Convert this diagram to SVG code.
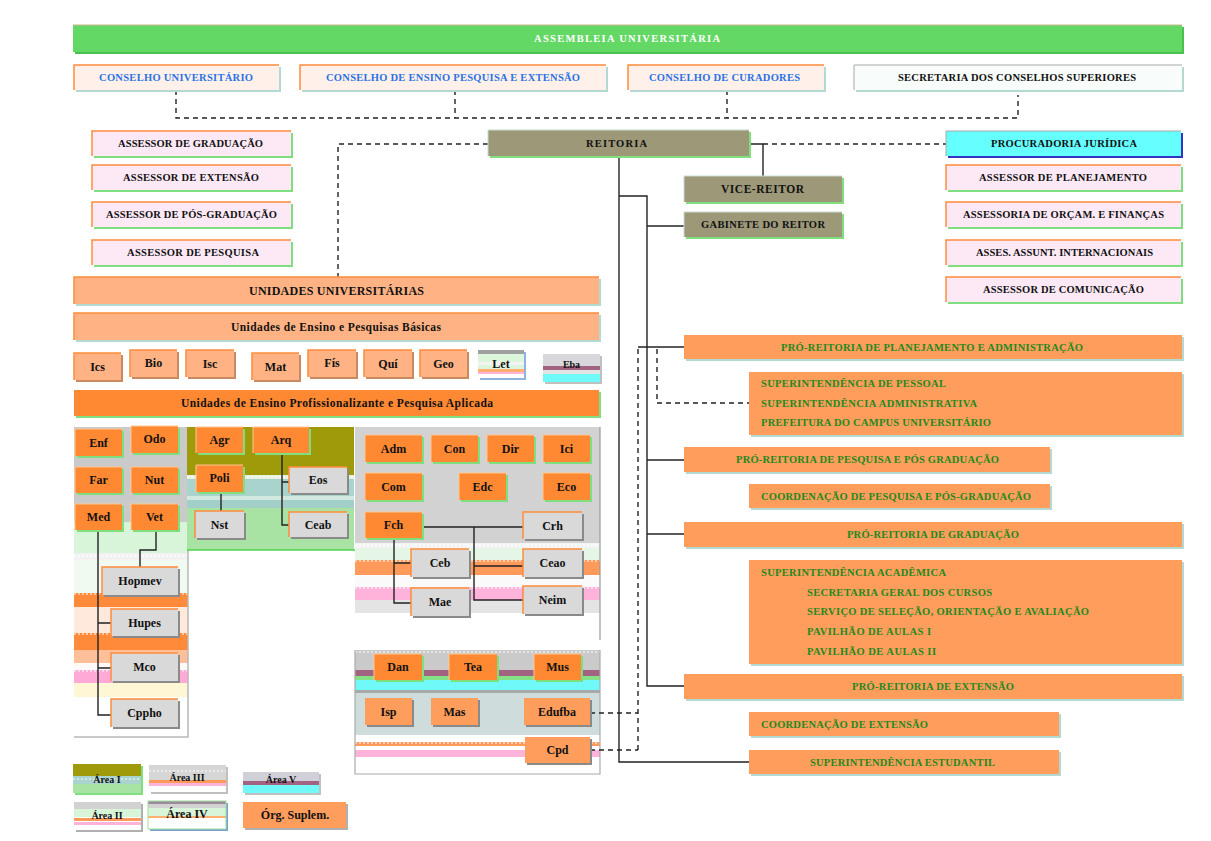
<svg xmlns="http://www.w3.org/2000/svg" width="1211" height="841" viewBox="0 0 1211 841">
<style>
  .t{font-family:"Liberation Serif","Times New Roman",serif;font-weight:bold;font-size:10.5px;fill:#111}
  .s{font-size:12px;text-anchor:middle}
  .m{text-anchor:middle}
  .blue{fill:#2a72e6}
  .grn{fill:#1e8a1e}
  .wht{fill:#ffffff}
  .or{fill:#ff8833}
  .lo{fill:#ff9d5c}
  .pe{fill:#ffb384}
  .gy{fill:#d9d9d9}
  .pk{fill:#fde9f6}
  .cr{fill:#fff1ea}
  .ol{fill:#9c9878}
  .cy{fill:#66ffff}
  .shg{fill:#7fdf7f}
  .sht{fill:#b4d8d2}
  .shd{fill:#8a8a8a}
  .sho{fill:#c98a62}
  .shb{fill:#3434c4}
  .eo{fill:none;stroke:#ff8c3c;stroke-width:1.5}
  .el{fill:none;stroke:#ffc890;stroke-width:1}
  .eg{fill:none;stroke:#a8a8a8;stroke-width:1}
  .ln{fill:none;stroke:#222;stroke-width:1.4}
  .dl{fill:none;stroke:#222;stroke-width:1.4;stroke-dasharray:5 4}
  .dot{fill:none;stroke:#ffffff;stroke-width:1.2;stroke-dasharray:2 2}
</style>

<rect width="1211" height="841" fill="#ffffff"/>

<!-- background areas -->
<g id="areas">
  <!-- health area panel -->
  <rect x="74" y="427" width="114" height="95" fill="#cacaca"/>
  <rect x="74" y="522" width="114" height="31" fill="#d9f5d9"/>
  <rect x="74" y="553" width="114" height="7" fill="#f2f2f2"/>
  <rect x="74" y="560" width="114" height="33" fill="#f0faf0"/>
  <rect x="74" y="593" width="114" height="14" fill="#ff8a3a"/>
  <rect x="74" y="607" width="114" height="26" fill="#ffe9dc"/>
  <rect x="74" y="633" width="114" height="17" fill="#ff8a3a"/>
  <rect x="74" y="650" width="114" height="13" fill="#ffbf98"/>
  <rect x="74" y="663" width="114" height="7" fill="#fffafa"/>
  <rect x="74" y="670" width="114" height="13" fill="#ffaad6"/>
  <rect x="74" y="683" width="114" height="14" fill="#fff6d6"/>
  <line class="dot" x1="74" y1="556" x2="188" y2="556"/>
  <line class="dot" x1="74" y1="594" x2="188" y2="594"/>
  <line class="dot" x1="74" y1="634" x2="188" y2="634"/>
  <line class="dot" x1="74" y1="671" x2="188" y2="671"/>
  <path d="M188,427V737H74" fill="none" stroke="#b8b8b8" stroke-width="1.5"/>

  <!-- agrarian / technology panel -->
  <rect x="187" y="427" width="167" height="48" fill="#9e9a0a"/>
  <rect x="187" y="475" width="167" height="4" fill="#e8f0e0"/>
  <rect x="187" y="479" width="167" height="17" fill="#a9d3cd"/>
  <rect x="187" y="496" width="167" height="4" fill="#d0e8e0"/>
  <rect x="187" y="500" width="167" height="8" fill="#a3cfc9"/>
  <rect x="187" y="508" width="167" height="42" fill="#a9e3a3"/>
  <line class="dot" x1="187" y1="477" x2="354" y2="477"/>
  <line x1="187" y1="550" x2="355" y2="550" stroke="#4fd04f" stroke-width="1.5"/>

  <!-- humanities panel -->
  <rect x="355" y="427" width="245" height="116" fill="#d2d2d2"/>
  <rect x="355" y="543" width="245" height="5" fill="#f4f4f4"/>
  <rect x="355" y="548" width="245" height="12" fill="#e6f6e6"/>
  <rect x="355" y="560" width="245" height="15" fill="#ff9a5a"/>
  <rect x="355" y="575" width="245" height="12" fill="#fafafa"/>
  <rect x="355" y="587" width="245" height="13" fill="#ffb3da"/>
  <rect x="355" y="600" width="245" height="13" fill="#e4e4e4"/>
  <line class="dot" x1="355" y1="561" x2="600" y2="561"/>
  <line class="dot" x1="355" y1="588" x2="600" y2="588"/>
  <line class="dot" x1="355" y1="545" x2="600" y2="545"/>
  <line x1="600" y1="427" x2="600" y2="640" stroke="#999999" stroke-width="1.2"/>

  <!-- arts and supplementary bodies panel -->
  <rect x="355" y="650" width="245" height="20" fill="#cacaca"/>
  <rect x="355" y="670" width="245" height="6" fill="#a26282"/>
  <rect x="355" y="676" width="245" height="4" fill="#86e086"/>
  <rect x="355" y="680" width="245" height="10" fill="#6ff9f9"/>
  <rect x="355" y="690" width="245" height="3" fill="#a9a9a9"/>
  <rect x="355" y="693" width="245" height="42" fill="#cfdcdc"/>
  <rect x="355" y="742" width="245" height="4" fill="#ff9a5a"/>
  <rect x="355" y="750" width="245" height="7" fill="#ffb3da"/>
  <line class="dot" x1="355" y1="652" x2="600" y2="652"/>
  <line class="dot" x1="355" y1="743" x2="600" y2="743"/>
  <path d="M355,650V774H600V650" fill="none" stroke="#aaaaaa" stroke-width="1.2"/>
</g>

<!-- connectors -->
<g id="connectors">
  <path class="dl" d="M176,90V118H1018V95"/>
  <path class="dl" d="M455,90V118"/>
  <path class="dl" d="M727,90V118"/>
  <path class="dl" d="M488,144H338V277"/>
  <path class="dl" d="M763,144H946"/>
  <path class="dl" d="M638,349V750"/>
  <path class="dl" d="M590,713H638"/>
  <path class="dl" d="M590,750H638"/>
  <path class="dl" d="M657,349V403H749"/>
  <path class="ln" d="M749,144H763V176"/>
  <path class="ln" d="M619,157V762H749"/>
  <path class="ln" d="M619,196H647V686H684"/>
  <path class="ln" d="M647,226H684"/>
  <path class="ln" d="M638,347H684"/>
  <path class="ln" d="M647,460H684"/>
  <path class="ln" d="M647,534H684"/>
  <path class="ln" d="M98,530V715H111M98,623H111M98,668H111"/>
  <path class="ln" d="M156,530V550H140V567"/>
  <path class="ln" d="M221,492V511"/>
  <path class="ln" d="M282,453V525H289M282,482H289"/>
  <path class="ln" d="M422,527H523M474,527V600H523M474,566H523"/>
  <path class="ln" d="M394,538V603H411M394,563H411"/>
</g>

<!-- top level bodies -->
<g id="assembleia">
  <rect x="75" y="27" width="1109" height="27" fill="#4cc04c"/>
  <rect x="73" y="25" width="1109" height="27" fill="#64d864"/>
  <path d="M73,25H1182" stroke="#c8b888" stroke-width="1.2"/>
  <text class="t wht" x="534" y="42" textLength="186" lengthAdjust="spacing">ASSEMBLEIA UNIVERSITÁRIA</text>
</g>
<g id="conselho-universitario">
  <rect class="sht" x="76" y="67" width="205" height="25"/>
  <rect class="cr" x="74" y="65" width="205" height="25"/>
  <path class="eo" d="M74,90V65H279"/>
  <text class="t blue" x="99" y="81" textLength="154" lengthAdjust="spacing">CONSELHO UNIVERSITÁRIO</text>
</g>
<g id="conselho-ensino">
  <rect class="sht" x="302" y="67" width="306" height="25"/>
  <rect class="cr" x="300" y="65" width="306" height="25"/>
  <path class="eo" d="M300,90V65H606"/>
  <text class="t blue" x="326" y="81" textLength="254" lengthAdjust="spacing">CONSELHO DE ENSINO PESQUISA E EXTENSÃO</text>
</g>
<g id="conselho-curadores">
  <rect class="sht" x="630" y="67" width="196" height="25"/>
  <rect class="cr" x="628" y="65" width="196" height="25"/>
  <path class="eo" d="M628,90V65H824"/>
  <text class="t blue" x="649" y="81" textLength="151" lengthAdjust="spacing">CONSELHO DE CURADORES</text>
</g>
<g id="secretaria-conselhos">
  <rect class="sht" x="856" y="67" width="328" height="25"/>
  <rect x="854" y="65" width="328" height="25" fill="#f8fcfa"/>
  <path class="eg" d="M854,90V65H1182" stroke="#e0e8e4"/>
  <text class="t" x="898" y="81" textLength="238" lengthAdjust="spacing">SECRETARIA DOS CONSELHOS SUPERIORES</text>
</g>

<!-- advisors, left -->
<g id="assessor-graduacao">
  <rect class="shg" x="94" y="133" width="199" height="25"/>
  <rect class="pk" x="92" y="131" width="199" height="25"/>
  <path class="eo" d="M92,156V131H291"/>
  <text class="t" x="118" y="147" textLength="145" lengthAdjust="spacing">ASSESSOR DE GRADUAÇÃO</text>
</g>
<g id="assessor-extensao">
  <rect class="shg" x="94" y="167" width="199" height="25"/>
  <rect class="pk" x="92" y="165" width="199" height="25"/>
  <path class="eo" d="M92,190V165H291"/>
  <text class="t" x="123" y="181" textLength="136" lengthAdjust="spacing">ASSESSOR DE EXTENSÃO</text>
</g>
<g id="assessor-pos">
  <rect class="shg" x="94" y="204" width="199" height="25"/>
  <rect class="pk" x="92" y="202" width="199" height="25"/>
  <path class="eo" d="M92,227V202H291"/>
  <text class="t" x="106" y="218" textLength="171" lengthAdjust="spacing">ASSESSOR DE PÓS-GRADUAÇÃO</text>
</g>
<g id="assessor-pesquisa">
  <rect class="shg" x="94" y="242" width="199" height="25"/>
  <rect class="pk" x="92" y="240" width="199" height="25"/>
  <path class="eo" d="M92,265V240H291"/>
  <text class="t" x="127" y="256" textLength="132" lengthAdjust="spacing">ASSESSOR DE PESQUISA</text>
</g>

<!-- rectorate -->
<g id="reitoria">
  <rect class="shg" x="490" y="132" width="261" height="26"/>
  <rect class="ol" x="488" y="130" width="261" height="26"/>
  <path d="M488,156V130H749" fill="none" stroke="#c8dcd0" stroke-width="1"/>
  <text class="t" x="586" y="147" textLength="61" lengthAdjust="spacing">REITORIA</text>
</g>
<g id="vice-reitor">
  <rect class="shg" x="686" y="178" width="158" height="26"/>
  <rect class="ol" x="684" y="176" width="158" height="26"/>
  <path d="M684,202V176H842" fill="none" stroke="#c8dcd0" stroke-width="1"/>
  <text class="t" x="721" y="193" textLength="83" lengthAdjust="spacing" style="font-size:11.5px">VICE-REITOR</text>
</g>
<g id="gabinete">
  <rect class="shg" x="686" y="214" width="158" height="25"/>
  <rect class="ol" x="684" y="212" width="158" height="25"/>
  <path d="M684,237V212H842" fill="none" stroke="#c8dcd0" stroke-width="1"/>
  <text class="t" x="701" y="228" textLength="124" lengthAdjust="spacing">GABINETE DO REITOR</text>
</g>

<!-- advisors, right -->
<g id="procuradoria">
  <rect class="shb" x="948" y="133" width="235" height="25"/>
  <rect class="cy" x="946" y="131" width="235" height="25"/>
  <path class="eg" d="M946,156V131H1181"/>
  <text class="t" x="991" y="147" textLength="146" lengthAdjust="spacing">PROCURADORIA JURÍDICA</text>
</g>
<g id="assessor-planejamento">
  <rect class="shg" x="948" y="167" width="235" height="25"/>
  <rect class="pk" x="946" y="165" width="235" height="25"/>
  <path class="eo" d="M946,190V165H1181"/>
  <text class="t" x="979" y="181" textLength="168" lengthAdjust="spacing">ASSESSOR DE PLANEJAMENTO</text>
</g>
<g id="assessoria-orcamento">
  <rect class="shg" x="948" y="204" width="235" height="25"/>
  <rect class="pk" x="946" y="202" width="235" height="25"/>
  <path class="eo" d="M946,227V202H1181"/>
  <text class="t" x="963" y="218" textLength="201" lengthAdjust="spacing">ASSESSORIA DE ORÇAM. E FINANÇAS</text>
</g>
<g id="assessor-internacional">
  <rect class="shg" x="948" y="242" width="235" height="25"/>
  <rect class="pk" x="946" y="240" width="235" height="25"/>
  <path class="eo" d="M946,265V240H1181"/>
  <text class="t" x="976" y="256" textLength="177" lengthAdjust="spacing">ASSES. ASSUNT. INTERNACIONAIS</text>
</g>
<g id="assessor-comunicacao">
  <rect class="shg" x="948" y="279" width="235" height="25"/>
  <rect class="pk" x="946" y="277" width="235" height="25"/>
  <path class="eo" d="M946,302V277H1181"/>
  <text class="t" x="983" y="293" textLength="161" lengthAdjust="spacing">ASSESSOR DE COMUNICAÇÃO</text>
</g>

<!-- university units -->
<g id="unidades">
  <rect class="sht" x="76" y="279" width="525" height="27"/>
  <rect class="pe" x="74" y="277" width="525" height="27"/>
  <path class="eo" d="M74,304V277H599"/>
  <text class="t" x="249" y="295" textLength="175" lengthAdjust="spacing" style="font-size:12px">UNIDADES UNIVERSITÁRIAS</text>
</g>
<g id="unidades-basicas">
  <rect class="sht" x="76" y="315" width="525" height="27"/>
  <rect class="pe" x="74" y="313" width="525" height="27"/>
  <path class="eo" d="M74,340V313H599"/>
  <text class="t" x="231" y="331" textLength="210" lengthAdjust="spacing" style="font-size:11.5px">Unidades de Ensino e Pesquisas Básicas</text>
</g>
<g id="unidades-profissionais">
  <rect class="shg" x="76" y="392" width="525" height="26"/>
  <rect class="or" x="74" y="390" width="525" height="26"/>
  <text class="t" x="181" y="407" textLength="312" lengthAdjust="spacing" style="font-size:11.5px">Unidades de Ensino Profissionalizante e Pesquisa Aplicada</text>
</g>

<!-- basic units -->
<g id="ics"><rect class="sho" x="76" y="355" width="47" height="27"/><rect class="pe" x="74" y="353" width="47" height="27"/><path class="eo" d="M74,380V353H121"/><text class="t s" x="97.5" y="371">Ics</text></g>
<g id="bio"><rect class="sho" x="132" y="352" width="47" height="27"/><rect class="pe" x="130" y="350" width="47" height="27"/><path class="eo" d="M130,377V350H177"/><text class="t s" x="153.5" y="367">Bio</text></g>
<g id="isc"><rect class="sho" x="188" y="352" width="48" height="27"/><rect class="pe" x="186" y="350" width="48" height="27"/><path class="eo" d="M186,377V350H234"/><text class="t s" x="210" y="368">Isc</text></g>
<g id="mat"><rect class="sho" x="254" y="355" width="47" height="27"/><rect class="pe" x="252" y="353" width="47" height="27"/><path class="eo" d="M252,380V353H299"/><text class="t s" x="275.5" y="371">Mat</text></g>
<g id="fis"><rect class="sho" x="310" y="352" width="48" height="27"/><rect class="pe" x="308" y="350" width="48" height="27"/><path class="eo" d="M308,377V350H356"/><text class="t s" x="332" y="367">Fís</text></g>
<g id="qui"><rect class="sho" x="366" y="352" width="48" height="27"/><rect class="pe" x="364" y="350" width="48" height="27"/><path class="eo" d="M364,377V350H412"/><text class="t s" x="388" y="368">Quí</text></g>
<g id="geo"><rect class="sho" x="422" y="352" width="47" height="27"/><rect class="pe" x="420" y="350" width="47" height="27"/><path class="eo" d="M420,377V350H467"/><text class="t s" x="443.5" y="368">Geo</text></g>
<g id="let">
  <rect x="480" y="352" width="46" height="28" fill="#8fb2e0"/>
  <rect x="478" y="350" width="46" height="28" fill="#dcf6dc"/>
  <rect x="478" y="350" width="46" height="4" fill="#a0a0a0"/>
  <rect x="478" y="362" width="46" height="3" fill="#f4f4f4"/>
  <rect x="478" y="369" width="46" height="3" fill="#ffb070"/>
  <rect x="478" y="372" width="46" height="2" fill="#ffb3da"/>
  <rect x="478" y="374" width="46" height="4" fill="#ffffff"/>
  <text class="t s" x="501" y="368">Let</text>
</g>
<g id="eba">
  <rect x="545" y="356" width="57" height="28" fill="#c0c0c0"/>
  <rect x="543" y="354" width="57" height="28" fill="#d8d8dc"/>
  <rect x="543" y="366" width="57" height="4" fill="#a26282"/>
  <rect x="543" y="370" width="57" height="4" fill="#e4e4e4"/>
  <rect x="543" y="374" width="57" height="8" fill="#6ff9f9"/>
  <text class="t s" x="571.5" y="368" style="font-size:10px">Eba</text>
</g>

<!-- health area units -->
<g id="enf"><rect class="shg" x="77" y="431" width="47" height="27"/><rect class="or" x="75" y="429" width="47" height="27"/><path class="el" d="M75,456V429H122"/><text class="t s" x="98.5" y="447">Enf</text></g>
<g id="odo"><rect class="shg" x="133" y="428" width="47" height="27"/><rect class="or" x="131" y="426" width="47" height="27"/><path class="el" d="M131,453V426H178"/><text class="t s" x="154.5" y="443">Odo</text></g>
<g id="far"><rect class="shg" x="77" y="469" width="47" height="26"/><rect class="or" x="75" y="467" width="47" height="26"/><path class="el" d="M75,493V467H122"/><text class="t s" x="98.5" y="484">Far</text></g>
<g id="nut"><rect class="shg" x="133" y="469" width="47" height="26"/><rect class="or" x="131" y="467" width="47" height="26"/><path class="el" d="M131,493V467H178"/><text class="t s" x="154.5" y="484">Nut</text></g>
<g id="med"><rect class="shg" x="77" y="506" width="47" height="26"/><rect class="or" x="75" y="504" width="47" height="26"/><path class="el" d="M75,530V504H122"/><text class="t s" x="98.5" y="521">Med</text></g>
<g id="vet"><rect class="shg" x="133" y="506" width="47" height="26"/><rect class="or" x="131" y="504" width="47" height="26"/><path class="el" d="M131,530V504H178"/><text class="t s" x="154.5" y="521">Vet</text></g>
<g id="hopmev"><rect class="shd" x="104" y="569" width="76" height="28"/><rect class="gy" x="102" y="567" width="76" height="28"/><path class="eo" d="M102,595V567H178"/><text class="t s" x="140" y="585">Hopmev</text></g>
<g id="hupes"><rect class="shd" x="113" y="611" width="67" height="27"/><rect class="gy" x="111" y="609" width="67" height="27"/><path class="eo" d="M111,636V609H178"/><text class="t s" x="144.5" y="627">Hupes</text></g>
<g id="mco"><rect class="shd" x="113" y="655" width="67" height="28"/><rect class="gy" x="111" y="653" width="67" height="28"/><path class="eo" d="M111,681V653H178"/><text class="t s" x="144.5" y="671">Mco</text></g>
<g id="cppho"><rect class="shd" x="113" y="701" width="67" height="28"/><rect class="gy" x="111" y="699" width="67" height="28"/><path class="eo" d="M111,727V699H178"/><text class="t s" x="144.5" y="717">Cppho</text></g>

<!-- agrarian and technology units -->
<g id="agr"><rect class="shg" x="198" y="429" width="47" height="26"/><rect class="or" x="196" y="427" width="47" height="26"/><path class="el" d="M196,453V427H243"/><text class="t s" x="219.5" y="444">Agr</text></g>
<g id="arq"><rect class="shg" x="255" y="429" width="56" height="26"/><rect class="or" x="253" y="427" width="56" height="26"/><path class="el" d="M253,453V427H309"/><text class="t s" x="281" y="444">Arq</text></g>
<g id="poli"><rect class="shg" x="198" y="467" width="47" height="27"/><rect class="or" x="196" y="465" width="47" height="27"/><path class="el" d="M196,492V465H243"/><text class="t s" x="219.5" y="482">Poli</text></g>
<g id="nst"><rect class="shd" x="197" y="513" width="49" height="27"/><rect class="gy" x="195" y="511" width="49" height="27"/><path class="eo" d="M195,538V511H244"/><text class="t s" x="219.5" y="529">Nst</text></g>
<g id="eos"><rect class="shd" x="291" y="469" width="58" height="26"/><rect class="gy" x="289" y="467" width="58" height="26"/><path class="eo" d="M289,493V467H347"/><text class="t s" x="318" y="484">Eos</text></g>
<g id="ceab"><rect class="shd" x="291" y="514" width="58" height="25"/><rect class="gy" x="289" y="512" width="58" height="25"/><path class="eo" d="M289,537V512H347"/><text class="t s" x="318" y="528.5">Ceab</text></g>

<!-- humanities units -->
<g id="adm"><rect class="shg" x="367" y="437" width="57" height="27"/><rect class="or" x="365" y="435" width="57" height="27"/><path class="el" d="M365,462V435H422"/><text class="t s" x="393.5" y="452.5">Adm</text></g>
<g id="con"><rect class="shg" x="433" y="437" width="47" height="27"/><rect class="or" x="431" y="435" width="47" height="27"/><path class="el" d="M431,462V435H478"/><text class="t s" x="454.5" y="452.5">Con</text></g>
<g id="dir"><rect class="shg" x="489" y="437" width="47" height="27"/><rect class="or" x="487" y="435" width="47" height="27"/><path class="el" d="M487,462V435H534"/><text class="t s" x="510.5" y="452.5">Dir</text></g>
<g id="ici"><rect class="shg" x="545" y="437" width="47" height="27"/><rect class="or" x="543" y="435" width="47" height="27"/><path class="el" d="M543,462V435H590"/><text class="t s" x="566.5" y="452.5">Ici</text></g>
<g id="com"><rect class="shg" x="367" y="475" width="57" height="27"/><rect class="or" x="365" y="473" width="57" height="27"/><path class="el" d="M365,500V473H422"/><text class="t s" x="393.5" y="490.5">Com</text></g>
<g id="edc"><rect class="shg" x="461" y="475" width="47" height="27"/><rect class="or" x="459" y="473" width="47" height="27"/><path class="el" d="M459,500V473H506"/><text class="t s" x="482.5" y="490.5">Edc</text></g>
<g id="eco"><rect class="shg" x="545" y="475" width="47" height="27"/><rect class="or" x="543" y="473" width="47" height="27"/><path class="el" d="M543,500V473H590"/><text class="t s" x="566.5" y="490.5">Eco</text></g>
<g id="fch"><rect class="shg" x="367" y="514" width="57" height="26"/><rect class="or" x="365" y="512" width="57" height="26"/><path class="el" d="M365,538V512H422"/><text class="t s" x="393.5" y="529">Fch</text></g>
<g id="crh"><rect class="shd" x="525" y="514" width="59" height="27"/><rect class="gy" x="523" y="512" width="59" height="27"/><path class="eo" d="M523,539V512H582"/><text class="t s" x="552.5" y="529.5">Crh</text></g>
<g id="ceb"><rect class="shd" x="413" y="551" width="58" height="28"/><rect class="gy" x="411" y="549" width="58" height="28"/><path class="eo" d="M411,577V549H469"/><text class="t s" x="440" y="567">Ceb</text></g>
<g id="ceao"><rect class="shd" x="525" y="551" width="59" height="28"/><rect class="gy" x="523" y="549" width="59" height="28"/><path class="eo" d="M523,577V549H582"/><text class="t s" x="552.5" y="567">Ceao</text></g>
<g id="mae"><rect class="shd" x="413" y="590" width="58" height="28"/><rect class="gy" x="411" y="588" width="58" height="28"/><path class="eo" d="M411,616V588H469"/><text class="t s" x="440" y="606">Mae</text></g>
<g id="neim"><rect class="shd" x="525" y="588" width="59" height="28"/><rect class="gy" x="523" y="586" width="59" height="28"/><path class="eo" d="M523,614V586H582"/><text class="t s" x="552.5" y="604">Neim</text></g>

<!-- arts units -->
<g id="dan"><rect class="shg" x="376" y="656" width="48" height="26"/><rect class="or" x="374" y="654" width="48" height="26"/><path class="el" d="M374,680V654H422"/><text class="t s" x="398" y="671">Dan</text></g>
<g id="tea"><rect class="shg" x="451" y="656" width="48" height="26"/><rect class="or" x="449" y="654" width="48" height="26"/><path class="el" d="M449,680V654H497"/><text class="t s" x="473" y="671">Tea</text></g>
<g id="mus"><rect class="shg" x="536" y="656" width="47" height="26"/><rect class="or" x="534" y="654" width="47" height="26"/><path class="el" d="M534,680V654H581"/><text class="t s" x="557.5" y="671">Mus</text></g>

<!-- supplementary bodies -->
<g id="isp"><rect class="shd" x="367" y="700" width="47" height="27"/><rect class="lo" x="365" y="698" width="47" height="27"/><text class="t s" x="388.5" y="716">Isp</text></g>
<g id="mas"><rect class="shd" x="433" y="700" width="47" height="27"/><rect class="lo" x="431" y="698" width="47" height="27"/><text class="t s" x="454.5" y="716">Mas</text></g>
<g id="edufba"><rect class="shd" x="526" y="700" width="66" height="27"/><rect class="lo" x="524" y="698" width="66" height="27"/><text class="t s" x="557" y="716">Edufba</text></g>
<g id="cpd"><rect class="shd" x="527" y="739" width="65" height="26"/><rect class="lo" x="525" y="737" width="65" height="26"/><text class="t s" x="557.5" y="754">Cpd</text></g>

<!-- pro-rectorates -->
<g id="pr-planejamento">
  <rect class="sht" x="686" y="337" width="498" height="24"/>
  <rect class="lo" x="684" y="335" width="498" height="24"/>
  <text class="t grn" x="781" y="351" textLength="302" lengthAdjust="spacing">PRÓ-REITORIA DE PLANEJAMENTO E ADMINISTRAÇÃO</text>
</g>
<g id="superintendencias">
  <rect class="sht" x="751" y="374" width="433" height="63"/>
  <rect class="lo" x="749" y="372" width="433" height="63"/>
  <text class="t grn" x="761" y="386.5" textLength="185" lengthAdjust="spacing">SUPERINTENDÊNCIA DE PESSOAL</text>
  <text class="t grn" x="761" y="406.5" textLength="216" lengthAdjust="spacing">SUPERINTENDÊNCIA ADMINISTRATIVA</text>
  <text class="t grn" x="761" y="425.5" textLength="230" lengthAdjust="spacing">PREFEITURA DO CAMPUS UNIVERSITÁRIO</text>
</g>
<g id="pr-pesquisa">
  <rect class="sht" x="686" y="449" width="366" height="25"/>
  <rect class="lo" x="684" y="447" width="366" height="25"/>
  <text class="t grn" x="736" y="463" textLength="263" lengthAdjust="spacing">PRÓ-REITORIA DE PESQUISA E PÓS GRADUAÇÃO</text>
</g>
<g id="coord-pesquisa">
  <rect class="sht" x="751" y="486" width="301" height="24"/>
  <rect class="lo" x="749" y="484" width="301" height="24"/>
  <text class="t grn" x="761" y="500" textLength="270" lengthAdjust="spacing">COORDENAÇÃO DE PESQUISA E PÓS-GRADUAÇÃO</text>
</g>
<g id="pr-graduacao">
  <rect class="sht" x="686" y="524" width="498" height="25"/>
  <rect class="lo" x="684" y="522" width="498" height="25"/>
  <text class="t grn" x="847" y="538" textLength="172" lengthAdjust="spacing">PRÓ-REITORIA DE GRADUAÇÃO</text>
</g>
<g id="superintendencia-academica">
  <rect class="sht" x="751" y="562" width="433" height="104"/>
  <rect class="lo" x="749" y="560" width="433" height="104"/>
  <text class="t grn" x="761" y="575.5" textLength="185" lengthAdjust="spacing">SUPERINTENDÊNCIA ACADÊMICA</text>
  <text class="t grn" x="807" y="595.5" textLength="185" lengthAdjust="spacing">SECRETARIA GERAL DOS CURSOS</text>
  <text class="t grn" x="807" y="614.5" textLength="282" lengthAdjust="spacing">SERVIÇO DE SELEÇÃO, ORIENTAÇÃO E AVALIAÇÃO</text>
  <text class="t grn" x="807" y="634.5" textLength="124" lengthAdjust="spacing">PAVILHÃO DE AULAS I</text>
  <text class="t grn" x="807" y="654.5" textLength="129" lengthAdjust="spacing">PAVILHÃO DE AULAS II</text>
</g>
<g id="pr-extensao">
  <rect class="sht" x="686" y="676" width="498" height="25"/>
  <rect class="lo" x="684" y="674" width="498" height="25"/>
  <text class="t grn" x="852" y="690" textLength="162" lengthAdjust="spacing">PRÓ-REITORIA DE EXTENSÃO</text>
</g>
<g id="coord-extensao">
  <rect class="sht" x="751" y="714" width="310" height="24"/>
  <rect class="lo" x="749" y="712" width="310" height="24"/>
  <text class="t grn" x="761" y="728" textLength="167" lengthAdjust="spacing">COORDENAÇÃO DE EXTENSÃO</text>
</g>
<g id="superintendencia-estudantil">
  <rect class="sht" x="751" y="752" width="310" height="24"/>
  <rect class="lo" x="749" y="750" width="310" height="24"/>
  <text class="t grn" x="810" y="766" textLength="185" lengthAdjust="spacing">SUPERINTENDÊNCIA ESTUDANTIL</text>
</g>

<!-- legend -->
<g id="legend-area-1">
  <rect x="75" y="766" width="68" height="29" fill="#7fdf7f"/>
  <rect x="73" y="764" width="68" height="12" fill="#9e9a0a"/>
  <rect x="73" y="776" width="68" height="8" fill="#a9d3cd"/>
  <rect x="73" y="784" width="68" height="9" fill="#a9e3a3"/>
  <line class="dot" x1="73" y1="779" x2="141" y2="779"/>
  <text class="t s" x="107" y="783" style="font-size:10px">Área I</text>
</g>
<g id="legend-area-3">
  <rect x="151" y="767" width="77" height="27" fill="#c0c0c0"/>
  <rect x="149" y="765" width="77" height="27" fill="#ffffff"/>
  <rect x="149" y="765" width="77" height="15" fill="#d6d6d6"/>
  <line class="dot" x1="149" y1="771" x2="226" y2="771"/>
  <rect x="149" y="780" width="77" height="3" fill="#ff9a5a"/>
  <rect x="149" y="783" width="77" height="3" fill="#ffb3da"/>
  <text class="t s" x="187" y="781" style="font-size:10px">Área III</text>
</g>
<g id="legend-area-5">
  <rect x="245" y="774" width="76" height="21" fill="#c0c0c0"/>
  <rect x="243" y="772" width="76" height="9" fill="#cfd0d8"/>
  <rect x="243" y="781" width="76" height="4" fill="#a26282"/>
  <rect x="243" y="785" width="76" height="8" fill="#6ff9f9"/>
  <text class="t s" x="281" y="783" style="font-size:10px">Área V</text>
</g>
<g id="legend-area-2">
  <rect x="76" y="804" width="67" height="28" fill="#b0b0b0"/>
  <rect x="74" y="802" width="67" height="28" fill="#ffffff"/>
  <rect x="74" y="802" width="67" height="7" fill="#d2d2d2"/>
  <rect x="74" y="809" width="67" height="8" fill="#d9f5d9"/>
  <rect x="74" y="818" width="67" height="3" fill="#ff9a5a"/>
  <rect x="74" y="822" width="67" height="3" fill="#ffb3da"/>
  <text class="t s" x="107" y="819" style="font-size:10px">Área II</text>
</g>
<g id="legend-area-4">
  <rect x="150" y="803" width="78" height="28" fill="#7aa0d0"/>
  <rect x="148" y="801" width="78" height="28" fill="#ffffff"/>
  <rect x="148" y="801" width="78" height="3" fill="#9a8a9a"/>
  <rect x="148" y="804" width="78" height="4" fill="#d2d2d2"/>
  <rect x="148" y="808" width="78" height="8" fill="#d9f5d9"/>
  <rect x="148" y="816" width="78" height="2" fill="#ffb070"/>
  <rect x="148" y="801" width="78" height="28" fill="none" stroke="#9fe09f" stroke-width="1"/>
  <text class="t s" x="187" y="818">Área IV</text>
</g>
<g id="legend-orgaos">
  <rect x="245" y="804" width="103" height="26" fill="#b0b0b0"/>
  <rect class="lo" x="243" y="802" width="103" height="26"/>
  <text class="t s" x="295" y="819">Órg. Suplem.</text>
</g>
</svg>
